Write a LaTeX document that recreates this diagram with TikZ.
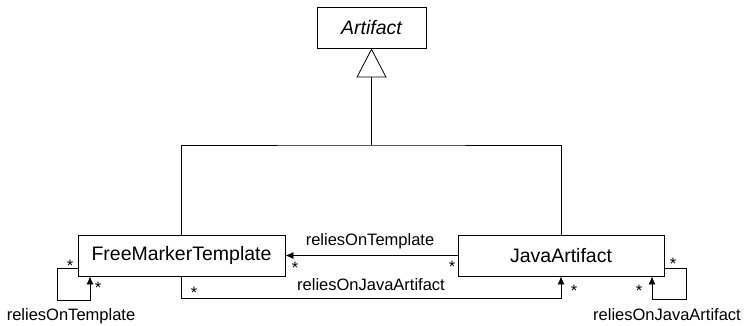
\documentclass[tikz,border=0pt]{standalone}
\usepackage{fontspec}
\setmainfont{Liberation Sans}
\usetikzlibrary{arrows.meta}
\tikzset{
  classbox/.style={draw, line width=0.8pt, inner sep=0pt, minimum height=41pt,
    font=\fontsize{19.5}{22}\selectfont},
  rolelabel/.style={font=\fontsize{16.5}{19}\selectfont, anchor=base, inner sep=0pt},
  multstar/.style={font=\fontsize{16.5}{19}\selectfont, inner sep=0pt},
  assoc/.style={line width=0.8pt, -{Latex[length=8pt,width=7pt]}},
  general/.style={line width=0.8pt, -{Triangle[open,length=29pt,width=30pt]}}
}
\begin{document}
\begin{tikzpicture}[x=1pt,y=-1pt]
            \useasboundingbox (0,0) rectangle (745,326);
            
            % Classes
            \node [classbox, minimum width=109pt] (art) at (371.5,27.5) {\itshape Artifact};
            \node [classbox, minimum width=207pt] (fmt) at (181.5,255.5) {FreeMarkerTemplate};
            \node [classbox, minimum width=206pt] (ja) at (561,255.5) {JavaArtifact};
            
            % Drawing generalization to Artifact
            \coordinate (hub) at (371.5,145);
            \draw [line width=0.8pt] (fmt.north) |- (hub) -| (ja.north);
            \draw [general] (hub) -- (art.south);
            
            % Drawing association reliesOnTemplate
            \draw [assoc] (ja.west) -- (fmt.east);
            \node [rolelabel] (rotlabel) at (370,246) {reliesOnTemplate};
            \node [multstar] (s1) at (295,268) {*};
            \node [multstar] (s2) at (452,267) {*};
            
            % Drawing association reliesOnJavaArtifact
            \draw [assoc] (fmt.south) -- (181.5,298) -| (ja.south);
            \node [rolelabel] (rojlabel) at (371,290) {reliesOnJavaArtifact};
            \node [multstar] (s3) at (194,293) {*};
            \node [multstar] (s4) at (574,291) {*};
            
            % Drawing self association of FreeMarkerTemplate
            \draw [assoc] (fmt.west |- 0,268) -- (57,268) |- (90,300) -- (fmt.south -| 90,0);
            \node [rolelabel] (fmtself) at (71,320) {reliesOnTemplate};
            \node [multstar] (s5) at (70,266) {*};
            \node [multstar] (s6) at (98,288) {*};
            
            % Drawing self association of JavaArtifact
            \draw [assoc] (ja.east |- 0,268) -- (686,268) |- (652,299) -- (ja.south -| 652,0);
            \node [rolelabel] (jaself) at (667,320) {reliesOnJavaArtifact};
            \node [multstar] (s7) at (673,264) {*};
            \node [multstar] (s8) at (639,291) {*};
        \end{tikzpicture}
\end{document}
